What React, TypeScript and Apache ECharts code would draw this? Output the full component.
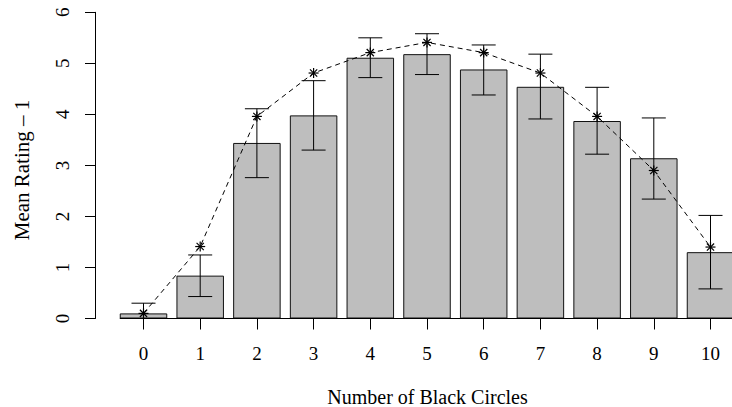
import React, { useEffect, useRef } from "react";
import * as echarts from "echarts";

const categories = ["0", "1", "2", "3", "4", "5", "6", "7", "8", "9", "10"];
const meanRating = [0.10, 0.84, 3.44, 3.98, 5.11, 5.18, 4.88, 4.54, 3.87, 3.14, 1.30];
const errLower = [-0.10, 0.43, 2.76, 3.30, 4.72, 4.78, 4.38, 3.91, 3.22, 2.34, 0.58];
const errUpper = [0.30, 1.245, 4.11, 4.66, 5.50, 5.58, 5.36, 5.18, 4.53, 3.93, 2.02];
const predicted = [0.10, 1.41, 3.96, 4.81, 5.21, 5.41, 5.21, 4.81, 3.96, 2.90, 1.40];
const yMin = 0;
const yMax = 6;
const yInterval = 1;
const xTitle = "Number of Black Circles";
const yTitle = "Mean Rating \u2013 1";

const FONT = "'Liberation Serif', 'Times New Roman', serif";
const BAR_W = 47.5;
const CAP = 12;
const STAR = 5;

export default function App() {
  const ref = useRef<HTMLDivElement>(null);
  useEffect(() => {
    document.body.style.margin = "0";
    if (!ref.current) return;
    const chart = echarts.init(ref.current, undefined, { renderer: "svg" });
    const black = "#000";
    const option: any = {
      animation: false,
      backgroundColor: "#fff",
      textStyle: { fontFamily: FONT, color: black },
      grid: {
        left: 115.15,
        top: 12.3,
        width: 623.7,
        height: 306.2,
        containLabel: false,
        outerBoundsMode: "none",
      },
      xAxis: {
        type: "category",
        data: categories,
        boundaryGap: true,
        axisLine: { show: false },
        axisTick: { show: true, alignWithLabel: true, length: 11, lineStyle: { color: black, width: 1 } },
        axisLabel: { color: black, fontFamily: FONT, fontSize: 19, margin: 25, lineHeight: 19, interval: 0 },
        splitLine: { show: false },
      },
      yAxis: {
        type: "value",
        min: yMin,
        max: yMax,
        interval: yInterval,
        offset: 19.65,
        axisLine: { show: true, lineStyle: { color: black, width: 1 } },
        axisTick: { show: true, length: 10.5, lineStyle: { color: black, width: 1 } },
        axisLabel: { color: black, fontFamily: FONT, fontSize: 19, rotate: 90, margin: 24, lineHeight: 19 },
        splitLine: { show: false },
      },
      graphic: [
        {
          type: "text",
          x: 427.5,
          y: 397,
          style: { text: xTitle, fontFamily: FONT, fontSize: 20, fill: black, textAlign: "center", textVerticalAlign: "middle" },
        },
        {
          type: "text",
          x: 22,
          y: 170,
          rotation: Math.PI / 2,
          style: { text: yTitle, fontFamily: FONT, fontSize: 21, fill: black, textAlign: "center", textVerticalAlign: "middle" },
        },
      ],
      series: [
        {
          type: "bar",
          data: meanRating,
          barWidth: BAR_W,
          itemStyle: { color: "#BEBEBE", borderColor: "#111", borderWidth: 1 },
          z: 2,
        },
        {
          type: "custom",
          z: 3,
          clip: false,
          data: [[0, 0]],
          renderItem: (params: any, api: any) => {
            const a = api.coord([0, 0]);
            const b = api.coord([categories.length - 1, 0]);
            return {
              type: "line",
              shape: { x1: a[0] - BAR_W / 2, y1: a[1], x2: b[0] + BAR_W / 2, y2: b[1] },
              style: { stroke: black, lineWidth: 1 },
            };
          },
        },
        {
          type: "custom",
          z: 4,
          clip: true,
          encode: { x: 0, y: [1, 2] },
          data: categories.map((c, i) => [i, errLower[i], errUpper[i]]),
          renderItem: (params: any, api: any) => {
            const i = api.value(0);
            const lo = api.coord([i, api.value(1)]);
            const hi = api.coord([i, api.value(2)]);
            const cx = hi[0];
            const st = { stroke: black, lineWidth: 1 };
            return {
              type: "group",
              children: [
                { type: "line", shape: { x1: cx, y1: hi[1], x2: cx, y2: lo[1] }, style: st },
                { type: "line", shape: { x1: cx - CAP, y1: hi[1], x2: cx + CAP, y2: hi[1] }, style: st },
                { type: "line", shape: { x1: cx - CAP, y1: lo[1], x2: cx + CAP, y2: lo[1] }, style: st },
              ],
            };
          },
        },
        {
          type: "line",
          data: predicted,
          symbol: "none",
          smooth: false,
          z: 5,
          lineStyle: { color: black, width: 1, type: [5, 4] },
        },
        {
          type: "custom",
          z: 6,
          encode: { x: 0, y: 1 },
          data: categories.map((c, i) => [i, predicted[i]]),
          renderItem: (params: any, api: any) => {
            const p = api.coord([api.value(0), api.value(1)]);
            const [x, y] = p;
            const d = STAR * 0.72;
            const st = { stroke: black, lineWidth: 1.2 };
            return {
              type: "group",
              children: [
                { type: "line", shape: { x1: x - STAR, y1: y, x2: x + STAR, y2: y }, style: st },
                { type: "line", shape: { x1: x, y1: y - STAR, x2: x, y2: y + STAR }, style: st },
                { type: "line", shape: { x1: x - d, y1: y - d, x2: x + d, y2: y + d }, style: st },
                { type: "line", shape: { x1: x - d, y1: y + d, x2: x + d, y2: y - d }, style: st },
              ],
            };
          },
        },
      ],
    };
    chart.setOption(option);
    return () => chart.dispose();
  }, []);
  return <div ref={ref} style={{ width: 732, height: 407 }} />;
}
